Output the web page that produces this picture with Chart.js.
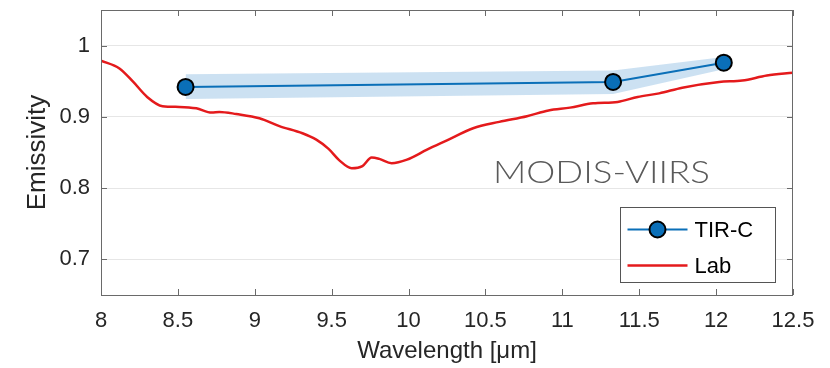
<!DOCTYPE html>
<html><head><meta charset="utf-8">
<style>html,body{margin:0;padding:0;background:#fff}#wrap{width:830px;height:368px}</style>
<script src="https://cdn.jsdelivr.net/npm/chart.js@4.4.0/dist/chart.umd.min.js"></script>
</head><body><div id="wrap"><canvas id="c" width="830" height="368"></canvas></div>
<script>
// ---- data ----
const labWavelength = [8.00, 8.12, 8.21, 8.30, 8.40, 8.51, 8.62, 8.72, 8.77, 8.88, 9.03, 9.16, 9.31, 9.40, 9.48, 9.55, 9.63, 9.70, 9.76, 9.81, 9.89, 9.99, 10.12, 10.25, 10.42, 10.59, 10.77, 10.91, 11.05, 11.20, 11.36, 11.49, 11.63, 11.78, 12.02, 12.17, 12.33, 12.50];
const labEmissivity = [0.979, 0.968, 0.949, 0.928, 0.915, 0.914, 0.912, 0.906, 0.907, 0.904, 0.898, 0.887, 0.877, 0.868, 0.855, 0.839, 0.828, 0.831, 0.843, 0.841, 0.835, 0.840, 0.854, 0.867, 0.884, 0.893, 0.901, 0.909, 0.913, 0.919, 0.921, 0.928, 0.933, 0.941, 0.949, 0.951, 0.958, 0.962];
const tircWavelength = [8.55, 11.33, 12.05];
const tircEmissivity = [0.942, 0.949, 0.976];
const tircLower = [0.925, 0.932, 0.967];
const tircUpper = [0.960, 0.965, 0.984];
const xTicks = [8, 8.5, 9, 9.5, 10, 10.5, 11, 11.5, 12, 12.5];
const yTicks = [0.7, 0.8, 0.9, 1];
const seriesNames = ['TIR-C', 'Lab'];
const xTitle = 'Wavelength [\u03BCm]';
const yTitle = 'Emissivity';
const annotationText = 'MODIS-VIIRS';

const pts = (xs, ys) => xs.map((x, i) => ({x: x, y: ys[i]}));
const BLUE = '#0a6fb8';
const RED = '#e41a1c';
const FONT = 'Liberation Sans, Arial, sans-serif';

const decor = {
  id: 'decor',
  afterDraw(chart) {
    const {ctx, chartArea: a, scales} = chart;
    ctx.save();
    // box
    ctx.strokeStyle = '#6a6a6a';
    ctx.lineWidth = 1;
    ctx.strokeRect(Math.round(a.left) + 0.5, Math.round(a.top) + 0.5, Math.round(a.right - a.left) - 1, Math.round(a.bottom - a.top));
    // inward ticks
    const tl = 6;
    ctx.beginPath();
    yTicks.forEach(v => {
      const p = Math.round(scales.y.getPixelForValue(v)) + 0.5;
      ctx.moveTo(a.left, p); ctx.lineTo(a.left + tl, p);
      ctx.moveTo(a.right, p); ctx.lineTo(a.right - tl, p);
    });
    xTicks.forEach(v => {
      const p = Math.round(scales.x.getPixelForValue(v)) + 0.5;
      ctx.moveTo(p, a.bottom); ctx.lineTo(p, a.bottom - tl);
      ctx.moveTo(p, a.top); ctx.lineTo(p, a.top + tl);
    });
    ctx.stroke();

    // annotation text
    ctx.font = '300 31px Lato, "Open Sans", sans-serif';
    ctx.fillStyle = '#5a5a5a';
    ctx.textBaseline = 'alphabetic';
    ctx.textAlign = 'left';
    const w = ctx.measureText(annotationText).width;
    const tx = a.left + 392, ty = a.top + 173;
    ctx.save();
    ctx.translate(tx, ty);
    ctx.scale(217 / w, 1);
    ctx.fillText(annotationText, 0, 0);
    ctx.restore();

    // legend
    const bx = Math.round(a.right) - 172.5, by = Math.round(a.bottom) - 87.5, bw = 155, bh = 75;
    ctx.fillStyle = '#ffffff';
    ctx.fillRect(bx, by, bw, bh);
    ctx.strokeStyle = '#555555';
    ctx.lineWidth = 1;
    ctx.strokeRect(bx, by, bw, bh);
    const rows = [by + 22, by + 58];
    // TIR-C
    ctx.strokeStyle = BLUE; ctx.lineWidth = 2;
    ctx.beginPath(); ctx.moveTo(bx + 7, rows[0]); ctx.lineTo(bx + 67, rows[0]); ctx.stroke();
    ctx.beginPath(); ctx.arc(bx + 37, rows[0], 8, 0, Math.PI * 2);
    ctx.fillStyle = BLUE; ctx.fill();
    ctx.strokeStyle = '#000000'; ctx.lineWidth = 2; ctx.stroke();
    // Lab
    ctx.strokeStyle = RED; ctx.lineWidth = 2.5;
    ctx.beginPath(); ctx.moveTo(bx + 7, rows[1]); ctx.lineTo(bx + 67, rows[1]); ctx.stroke();
    ctx.fillStyle = '#000000';
    ctx.font = '22px ' + FONT;
    ctx.textBaseline = 'middle';
    ctx.fillText(seriesNames[0], bx + 74, rows[0] + 1);
    ctx.fillText(seriesNames[1], bx + 74, rows[1] + 1);
    ctx.restore();
  }
};

new Chart(document.getElementById('c'), {
  type: 'line',
  data: {
    datasets: [
      {label: seriesNames[0], data: pts(tircWavelength, tircEmissivity), borderColor: BLUE, borderWidth: 2,
       pointRadius: 8, pointBackgroundColor: BLUE, pointBorderColor: '#000', pointBorderWidth: 2, fill: false, tension: 0},
      {label: seriesNames[1], data: pts(labWavelength, labEmissivity), borderColor: RED, borderWidth: 2.5,
       pointRadius: 0, fill: false, cubicInterpolationMode: 'monotone'},
      {label: 'upper', data: pts(tircWavelength, tircUpper), borderWidth: 0, borderColor: 'rgba(0,0,0,0)', pointRadius: 0,
       backgroundColor: 'rgba(40,130,200,0.24)', fill: '+1', tension: 0},
      {label: 'lower', data: pts(tircWavelength, tircLower), borderWidth: 0, borderColor: 'rgba(0,0,0,0)', pointRadius: 0,
       fill: false, tension: 0}
    ]
  },
  options: {
    responsive: false,
    animation: false,
    devicePixelRatio: 1,
    layout: {padding: {top: 9, right: 37, left: 0, bottom: 0}},
    plugins: {legend: {display: false}, tooltip: {enabled: false}},
    scales: {
      x: {
        type: 'linear', min: 8, max: 12.5,
        afterBuildTicks: s => { s.ticks = xTicks.map(v => ({value: v})); },
        afterFit: s => { s.height = 73; s.paddingLeft = 0; s.paddingRight = 0; },
        grid: {display: false},
        border: {display: false},
        ticks: {font: {family: FONT, size: 22}, color: '#262626', padding: 5, autoSkip: false, maxRotation: 0, callback: v => String(v)},
        title: {display: true, text: xTitle, font: {family: FONT, size: 24}, color: '#262626', padding: {top: 2, bottom: 2}}
      },
      y: {
        type: 'linear', min: 0.65, max: 1.05,
        afterBuildTicks: s => { s.ticks = yTicks.map(v => ({value: v})); },
        afterFit: s => { s.width = 101; s.paddingTop = 0; s.paddingBottom = 0; },
        grid: {color: '#e6e6e6', lineWidth: 1, drawTicks: false},
        border: {display: false},
        ticks: {font: {family: FONT, size: 22}, color: '#262626', padding: 11, callback: v => String(v)},
        title: {display: true, text: yTitle, font: {family: FONT, size: 26}, color: '#262626', padding: {top: 22, bottom: 0}}
      }
    }
  },
  plugins: [decor]
});
</script>
</body></html>
